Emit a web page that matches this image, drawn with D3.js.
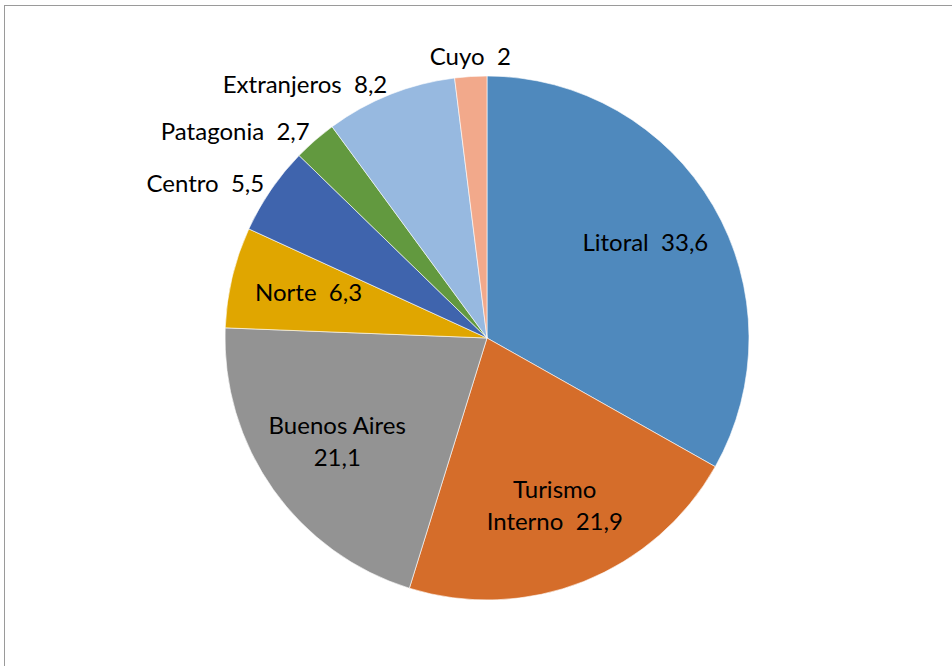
<!DOCTYPE html>
<html lang="es">
	<head>
		<meta charset="utf-8">
		<title>Pie chart</title>
		<script src="https://cdnjs.cloudflare.com/ajax/libs/d3/7.8.5/d3.min.js"></script>
		<style type="text/css">
			body { margin: 0; background: #fff; }
			text { font-family: Lato, "Open Sans", sans-serif; font-size: 24px; fill: #000; white-space: pre; }
		</style>
	</head>
	<body>
		<div id="container"></div>

		<script type="text/javascript">

			// data, clockwise from 12 o'clock
			var categories = ["Litoral", "Turismo Interno", "Buenos Aires", "Norte", "Centro", "Patagonia", "Extranjeros", "Cuyo"];
			var values = [33.6, 21.9, 21.1, 6.3, 5.5, 2.7, 8.2, 2];
			var colors = ["#4F89BD", "#D56D2A", "#939393", "#E0A600", "#3F64AD", "#62993F", "#97B9E0", "#F2A98B"];
			// which labels sit outside the pie
			var outside = [false, false, false, false, true, true, true, true];

			var width = 952;
			var height = 666;
			var cx = 487, cy = 338, radius = 262;

			var svg = d3.select("div#container")
				.append("svg")
				.attr("width", width)
				.attr("height", height);

			// chart frame (runs off right & bottom like the source)
			svg.append("rect")
				.attr("x", 4.5)
				.attr("y", 5.5)
				.attr("width", 1000)
				.attr("height", 700)
				.attr("fill", "none")
				.attr("stroke", "#9a9a9a")
				.attr("stroke-width", 1);

			var data = categories.map(function(c, i) {
				return { name: c, value: values[i], color: colors[i], outside: outside[i] };
			});

			var pie = d3.pie()
				.sort(null)
				.value(function(d) { return d.value; });

			var arc = d3.arc()
				.innerRadius(0)
				.outerRadius(radius);

			var g = svg.append("g")
				.attr("transform", "translate(" + cx + "," + cy + ")");

			var arcs = pie(data);

			g.selectAll("path")
				.data(arcs)
				.enter().append("path")
					.attr("d", arc)
					.attr("fill", function(d) { return d.data.color; })
					.attr("stroke", "#fff")
					.attr("stroke-width", 0.6);

			var fmt = function(v) { return String(v).replace(".", ","); };
			var lineH = 32;
			var maxW = 160;

			// measure helper for wrapping
			var probe = svg.append("text").attr("opacity", 0);
			function textW(s) { probe.text(s); return probe.node().getComputedTextLength(); }

			// greedy wrap; the value is its own token joined by two spaces
			function wrap(name, val) {
				var tokens = name.split(" ").map(function(w) { return { t: w, sep: " " }; });
				tokens.push({ t: val, sep: "  " });
				var lines = [], cur = "";
				tokens.forEach(function(tok) {
					var t = cur ? cur + tok.sep + tok.t : tok.t;
					if (cur && textW(t) > maxW) { lines.push(cur); cur = tok.t; }
					else cur = t;
				});
				lines.push(cur);
				return lines;
			}

			arcs.forEach(function(a) {
				var mid = (a.startAngle + a.endAngle) / 2;
				var s = Math.sin(mid), c = Math.cos(mid);
				var full = a.data.name + "  " + fmt(a.data.value);

				if (!a.data.outside) {
					var r = radius * 0.7;
					var px = s * r, py = -c * r;
					var lines = wrap(a.data.name, fmt(a.data.value));
					var t = g.append("text")
						.attr("text-anchor", "middle")
						.attr("dominant-baseline", "middle");
					lines.forEach(function(l, i) {
						t.append("tspan")
							.attr("x", px)
							.attr("y", py + (i - (lines.length - 1) / 2) * lineH)
							.text(l);
					});
				} else {
					var ro = radius + 8;
					var ox = s * ro, oy = -c * ro;
					var anchor = Math.abs(s) < 0.25 ? "middle" : (s < 0 ? "end" : "start");
					g.append("text")
						.attr("x", ox)
						.attr("y", anchor === "middle" ? oy - 10 * c : oy)
						.attr("text-anchor", anchor)
						.attr("dominant-baseline", "middle")
						.text(full);
				}
			});

			probe.remove();
		</script>
	</body>
</html>
